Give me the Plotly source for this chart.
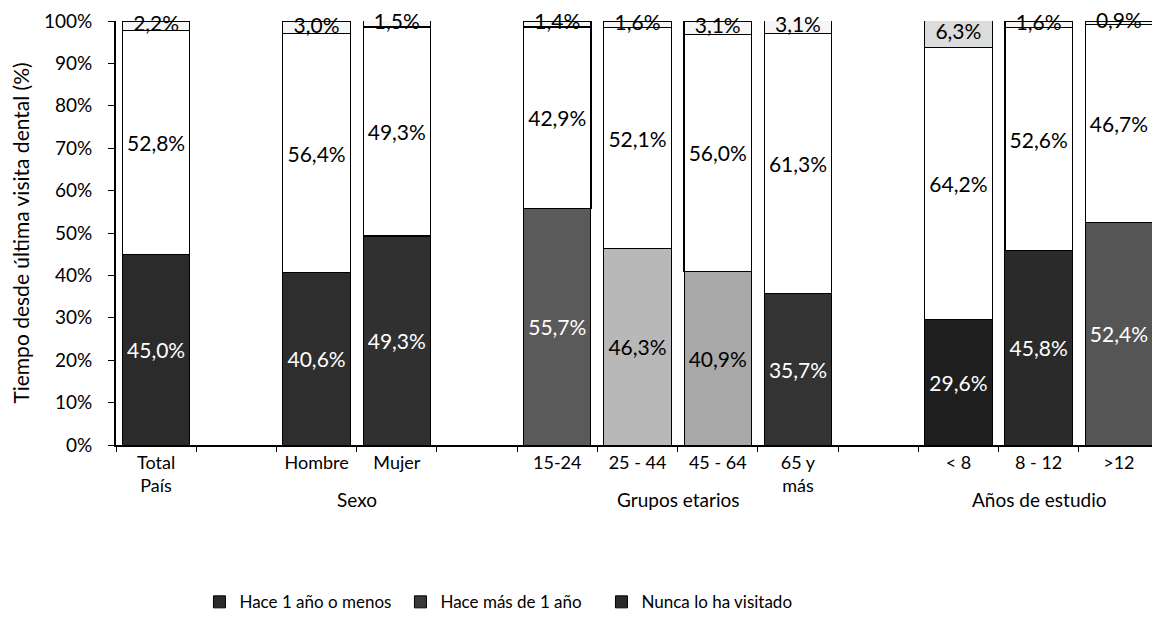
import plotly.graph_objects as go

categories = ["Total<br>País", "Hombre", "Mujer", "15-24", "25 - 44", "45 - 64",
              "65 y<br>más", "&lt; 8", "8 - 12", "&gt;12"]
slot_order = ["Total<br>País", " ", "Hombre", "Mujer", "  ", "15-24", "25 - 44",
              "45 - 64", "65 y<br>más", "   ", "&lt; 8", "8 - 12", "&gt;12"]

hace_1_o_menos = [45.0, 40.6, 49.3, 55.7, 46.3, 40.9, 35.7, 29.6, 45.8, 52.4]
hace_mas_1 = [52.8, 56.4, 49.3, 42.9, 52.1, 56.0, 61.3, 64.2, 52.6, 46.7]
nunca = [2.2, 3.0, 1.5, 1.4, 1.6, 3.1, 3.1, 6.3, 1.6, 0.9]

series_names = ["Hace 1 año o menos", "Hace más de 1 año", "Nunca lo ha visitado"]

groups = ["Sexo", "Grupos etarios", "Años de estudio"]
group_pos = [2.5, 6.5, 11]

bottom_colors = ["#2b2b2b", "#2e2e2e", "#303030", "#5a5a5a", "#b8b8b8", "#a8a8a8",
                 "#333333", "#1e1e1e", "#2a2a2a", "#555555"]
bottom_text_colors = ["white", "white", "white", "white", "black", "black",
                      "white", "white", "white", "white"]
top_colors = ["#f6f6f6", "#f6f6f6", "#f6f6f6", "#f6f6f6", "#f6f6f6", "#f6f6f6",
              "#f6f6f6", "#dcdcdc", "#f6f6f6", "#f6f6f6"]
legend_colors = ["#2b2b2b", "#3a3a3a", "#2b2b2b"]


def fmt(v):
    return f"{v:.1f}".replace(".", ",") + "%"


FONT = "Lato"
LBL = 21
fig = go.Figure()
fig.add_trace(go.Bar(
    x=categories, y=hace_1_o_menos, name=series_names[0], showlegend=False,
    marker=dict(color=bottom_colors, line=dict(color="black", width=1)),
    text=[fmt(v) for v in hace_1_o_menos], textposition="inside",
    insidetextanchor="middle",
    textfont=dict(family=FONT, size=LBL, color=bottom_text_colors),
    cliponaxis=False,
))
fig.add_trace(go.Bar(
    x=categories, y=hace_mas_1, name=series_names[1], showlegend=False,
    marker=dict(color="white", line=dict(color="black", width=1.2)),
    text=[fmt(v) for v in hace_mas_1], textposition="inside",
    insidetextanchor="middle",
    textfont=dict(family=FONT, size=LBL, color="black"),
    cliponaxis=False,
))
fig.add_trace(go.Bar(
    x=categories, y=nunca, name=series_names[2], showlegend=False,
    marker=dict(color=top_colors, line=dict(color="black", width=1.2)),
    cliponaxis=False,
))
# labels of the small top segment, placed at the segment centre
top_centres = [a + b + c / 2 for a, b, c in zip(hace_1_o_menos, hace_mas_1, nunca)]
fig.add_trace(go.Scatter(
    x=categories, y=top_centres, mode="text", text=[fmt(v) for v in nunca],
    textposition="middle center", showlegend=False, hoverinfo="skip",
    textfont=dict(family=FONT, size=LBL, color="black"), cliponaxis=False,
))
# legend entries
for nm, col in zip(series_names, legend_colors):
    fig.add_trace(go.Bar(x=[None], y=[None], name=nm,
                         marker=dict(color=col, line=dict(color="black", width=1))))

for g, p in zip(groups, group_pos):
    fig.add_annotation(x=p, y=-0.129, xref="x", yref="paper", text=g,
                       showarrow=False, yanchor="middle",
                       font=dict(family=FONT, size=19, color="black"))

fig.update_layout(
    barmode="stack", bargap=0.16,
    width=1152, height=618,
    margin=dict(l=108, r=1, t=11, b=181),
    plot_bgcolor="white", paper_bgcolor="white",
    font=dict(family=FONT, size=18, color="black"),
    uniformtext=dict(minsize=LBL, mode="show"),
    showlegend=True,
    legend=dict(orientation="h", x=0.08, xanchor="left", y=-0.371, yanchor="middle",
                traceorder="normal", entrywidth=156, entrywidthmode="pixels",
                font=dict(family=FONT, size=17, color="black"),
                itemclick=False),
    xaxis=dict(type="category", categoryorder="array", categoryarray=slot_order,
               tickson="boundaries", ticks="outside", ticklen=5, tickcolor="black",
               showline=True, linecolor="black", linewidth=2, showgrid=False,
               tickfont=dict(family=FONT, size=18, color="black"),
               range=[-0.5, 12.5]),
    yaxis=dict(range=[0, 100], dtick=10, ticksuffix="%", ticks="outside", ticklen=6,
               tickcolor="black", showline=True, linecolor="black", linewidth=2,
               showgrid=False, zeroline=False, ticklabeloverflow="allow",
               ticklabelstandoff=12,
               tickfont=dict(family=FONT, size=19, color="black"),
               title=dict(text="Tiempo desde última visita dental (%)", standoff=12,
                          font=dict(family=FONT, size=21, color="black"))),
)

fig.write_html("out.html")
